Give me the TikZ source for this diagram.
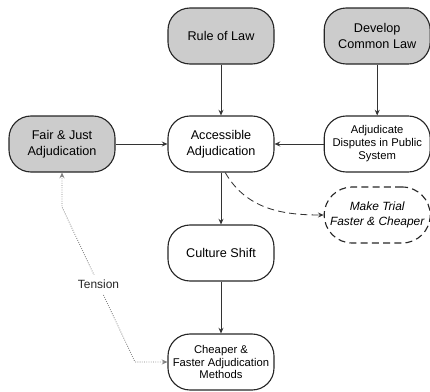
\documentclass[tikz,border=0pt]{standalone}
\usepackage{fontspec}
\setmainfont{Liberation Sans}
\usetikzlibrary{arrows.meta}

\begin{document}
\begin{tikzpicture}[
    box/.style={draw=black!85, line width=0.8pt, rounded corners=0.55cm, minimum width=2.65cm, minimum height=1.4cm, align=center, inner sep=2pt, font=\fontsize{9}{11}\selectfont},
    shaded/.style={box, fill=gray!40},
    small/.style={font=\fontsize{8}{9.2}\selectfont},
    link/.style={draw=black!80, line width=0.6pt, -{Stealth[length=4pt,width=3.5pt]}}
  ]
  \useasboundingbox (0,0) rectangle (10.75,9.775);
  \node[shaded] (law) at (5.525,8.875) {Rule of Law};
  \node[shaded] (common) at (9.43,8.875) {Develop\\Common Law};
  \node[shaded] (fair) at (1.55,6.175) {Fair \& Just\\Adjudication};
  \node[box] (access) at (5.525,6.175) {Accessible\\Adjudication};
  \node[box, small] (public) at (9.43,6.175) {Adjudicate\\Disputes in Public\\System};
  \node[box, dash pattern=on 5pt off 3pt, rounded corners=0.7cm, font=\fontsize{8.5}{10.5}\selectfont\itshape] (trial) at (9.43,4.4) {Make Trial\\Faster \& Cheaper};
  \node[box] (culture) at (5.525,3.45) {Culture Shift};
  \node[box, small] (cheap) at (5.525,0.725) {Cheaper \&\\Faster Adjudication\\Methods};
  \coordinate (bend1) at (1.55,4.6);
  \coordinate (bend2) at (3.375,0.725);

  \draw[link] (law) -- (access);
  \draw[link] (common) -- (public);
  \draw[link] (fair) -- (access);
  \draw[link] (public) -- (access);
  \draw[link] (access) -- (culture);
  \draw[link] (culture) -- (cheap);
  \draw[link, dash pattern=on 5pt off 3pt] ([xshift=3pt]access.south) to[out=-60, in=180] (trial.west);
  \draw[gray, densely dotted, line width=0.6pt, {Stealth[length=4pt,width=3.5pt]}-{Stealth[length=4pt,width=3.5pt]}]
    (fair.south) -- (bend1) -- node[fill=white, text=black!85, font=\fontsize{8.5}{10}\selectfont] {Tension} (bend2) -- (cheap.west);
\end{tikzpicture}
\end{document}
